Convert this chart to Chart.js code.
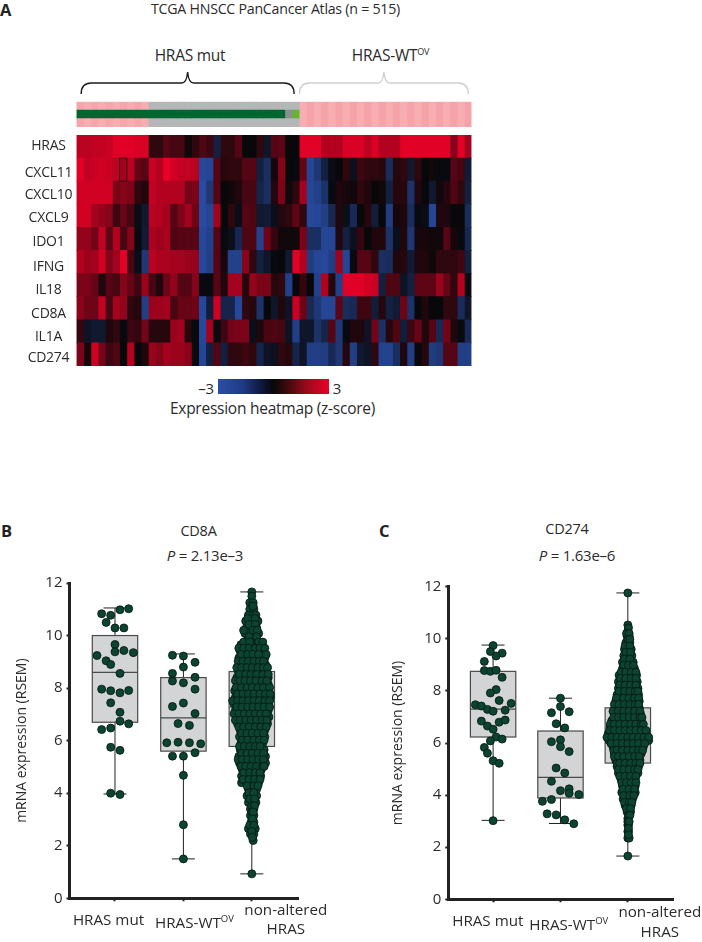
<!DOCTYPE html>
<html><head><meta charset="utf-8">
<script src="https://cdn.jsdelivr.net/npm/chart.js@4/dist/chart.umd.min.js"></script>
<style>
html,body{margin:0;padding:0;background:#fff;width:702px;height:942px;overflow:hidden}
body{position:relative;font-family:"Open Sans",sans-serif;color:#2b2b2b}
canvas{position:absolute}
.t{position:absolute;transform:translate(-50%,-50%);white-space:nowrap;font-size:14.2px;letter-spacing:-.25px}
.t sup{font-size:9px;line-height:0;vertical-align:baseline;position:relative;top:-6px}
.p{position:absolute;font-weight:700;font-size:16.5px;line-height:16px;color:#222}
#bar{position:absolute;left:218px;top:379px;width:111px;height:15px;filter:blur(.4px);background:linear-gradient(90deg,#2a4fa8 0%,#1f3a86 22%,#0c1230 42%,#080808 50%,#3c0a0c 62%,#990a1c 80%,#ee0028 100%)}
#heat{filter:blur(.55px)}
</style></head><body>
<div class="p" style="left:0;top:2px">A</div>
<div class="p" style="left:1px;top:523px">B</div>
<div class="p" style="left:379px;top:523px">C</div>
<div class="t" style="left:275.5px;top:8px">TCGA HNSCC PanCancer Atlas (n = 515)</div>
<div class="t" style="left:190px;top:55px;font-size:15.5px">HRAS mut</div>
<div class="t" style="left:390.5px;top:55px;font-size:15.5px">HRAS-WT<sup>OV</sup></div>
<div class="t" style="left:206px;top:388px;font-size:15px">–3</div>
<div class="t" style="left:337px;top:388px;font-size:15px">3</div>
<div id="bar"></div>
<div class="t" style="left:272.5px;top:408px;font-size:15.5px">Expression heatmap (z-score)</div>
<div class="t" style="left:198.5px;top:530px;font-size:14.5px">CD8A</div>
<div class="t" style="left:205px;top:555px;font-size:15px"><i>P</i> = 2.13e–3</div>
<div class="t" style="left:567px;top:528px;font-size:14.5px">CD274</div>
<div class="t" style="left:577px;top:555px;font-size:15px"><i>P</i> = 1.63e–6</div>
<canvas id="anno" width="480" height="70" style="left:0;top:60px"></canvas>
<canvas id="heat" width="480" height="245" style="left:0;top:130px"></canvas>
<canvas id="chartB" width="351" height="372" style="left:0;top:570px"></canvas>
<canvas id="chartC" width="351" height="372" style="left:351px;top:570px"></canvas>
<script>
const FONT='"Open Sans",sans-serif', INK='#2b2b2b';

// ---------- heatmap data (z-scores, 55 samples) ----------
const genes=['HRAS','CXCL11','CXCL10','CXCL9','IDO1','IFNG','IL18','CD8A','IL1A','CD274'];
const geneLabelShift=[-2.5,1.3,.2,.1,1,3,2.9,3.8,3.7,1.6];
const zHRAS  =[2.3,2.3,2.4,2.4,2.5,2.8,2.8,2.8,2.7,2.7,.5,.5,1,.8,.8,.1,.5,.9,.7,-1,.5,.5,1,0,0,.5,-.6,1,1.1,0,0,2.8,2.8,2.8,2.2,2.2,2.2,2.7,2.7,2.7,2.3,2.7,2.2,2.2,2.2,2.8,2.8,2.8,2.8,2.8,2.8,2.8,1.6,2.8,2];
const zCXCL11=[2.8,2.4,2.5,2.6,2.5,2.3,2,2.3,1.2,1,2.5,2.2,2.9,2.6,2.4,2.4,2.3,-2.7,-2.6,1,.4,.5,.5,1,1,-1,-1.6,.2,1.6,0,-.1,1.2,-2.6,-2,-1,-.2,0,.5,-.4,.7,.5,.5,.4,-1.5,.4,.5,-.7,.5,0,.1,-.1,-.1,1,.8,-.8];
const zCXCL10=[2.6,2.6,2.6,2.6,2.6,1.5,1.6,1.5,.5,.3,2.4,2.2,2.2,2.2,2.2,1.4,1.5,-2.8,-2,1,0,.1,.3,.8,.8,-1.2,-1.6,.4,1.5,.1,.5,2,-2.6,-2.4,-1.8,-.1,.3,.2,.1,.5,.3,0,.1,-1,.4,.4,-1.8,.3,0,-.7,.1,.4,.9,.5,-1];
const zCXCL9 =[2.6,2.6,2,1.8,1.6,.7,1.2,.8,-.2,-.7,2.3,2.2,2,1,1.5,2,1.3,-2.8,-2.6,2,0,.5,-.2,1,.9,-.7,-.8,-.3,.4,.5,1.1,.5,-2.7,-2.6,-2.3,-1.3,.3,-.3,-1.4,0,.4,-.9,0,-2.2,.2,.3,-1.5,-.1,-.2,-2.6,.3,.3,0,0,-1.5];
const zIDO1  =[1.8,1.8,1.4,2.4,1.1,2.2,.8,1.6,-.1,-.8,2.1,1.9,2.1,.9,1,1,1,-2.7,-2.4,1,-.1,-.3,-1.3,.9,.9,-2.5,1.3,.6,.1,.1,.1,1.5,-1.6,-1.6,-2.6,-2.6,.3,-1,-.4,.6,0,.3,.3,-1.8,-.3,.3,-2,.2,.2,.1,.1,1,.2,-.1,-1.3];
const zIFNG  =[2.2,1.9,2,2.6,1.6,2,2.8,.8,-.2,-2,2.3,2.1,2.1,2,2,1.9,1.8,-2.7,-2.3,1,.2,-2.4,-2.4,1.7,.5,-1,-.6,-.1,0,-.7,2.8,2.2,-2.2,-2.6,-2.7,-2.3,1.9,-2.6,-.1,1,1,.5,-1.6,-1.5,.3,.4,-.8,.3,.3,.1,.5,.5,.5,.7,-1];
const zIL18  =[1.5,1.5,1.2,.3,1,.8,1.6,1.2,.7,1.9,.8,.3,1.3,1.8,1,1,1.6,-.1,-.1,1,.3,2,2,.4,1.8,1.5,1.5,.4,.5,-2.4,0,.6,0,-2.4,2.2,.4,-2.4,2.8,2.8,2.8,2.6,2.5,-1,.9,.9,-.5,-1,1.1,1.1,1.1,1.9,1.2,.5,2.2,-.1];
const zCD8A  =[1.7,1.3,1.3,2.4,.8,2,1.8,.5,.4,-2.3,1.9,1.9,2,.8,1.2,1.2,1.3,-2.7,-.9,2.6,-1.2,-1.2,-2.7,.5,.4,-1.8,0,-.6,.3,-.5,2.5,1.3,-1.4,-2,-2.6,-2.6,1.1,-1.5,-1.4,.7,.7,-.9,.4,-1,-.8,1.3,-1.8,0,.3,0,0,.5,.5,-1.5,-.6];
const zIL1A  =[.6,-.5,-.7,-.7,.3,.5,-.1,.7,.6,1.4,.4,.4,.4,1.9,2,.4,-.1,-2.7,2,-.1,.7,1.4,1.5,1.5,-.3,.3,.8,.9,.8,-.5,-2.3,-.6,-.6,-1.8,-1.2,1,-2,-.1,.3,.3,-.5,1.4,-1.7,.4,.9,-.9,.7,1.2,.3,1,-1.4,1.4,.3,-.1,-1.4];
const zCD274 =[1.5,.2,2.6,1.4,.7,.9,0,2.2,0,.3,1.9,1.6,2,1.9,1.9,1.7,-.1,-2.6,-1,1,-1,.5,.5,.7,.5,-1.2,-.5,-.4,.5,.4,-1.2,-.5,-2.3,-2.3,-2.2,-1.4,-2,.4,-2.3,-.7,-.5,.5,-2.5,-2.5,-1.6,.3,-2.3,0,.4,-2.2,-2,1,1,-2.3,-2.3];
const zRows=[zHRAS,zCXCL11,zCXCL10,zCXCL9,zIDO1,zIFNG,zIL18,zCD8A,zIL1A,zCD274];

// annotation tracks: P/W amplified, G none, D truncating, S/L other
const annoOuter='PPPPPPPPPPGGGGGGGGGGGGGGGGGGGGGWWWWWWWWWWWWWWWWWWWWWWWW';
const annoMiddle='DDDDDDDDDDDDDDDDDDDDDDDDDDDDDSLWWWWWWWWWWWWWWWWWWWWWWWW';
const annoTracks=[annoOuter,annoMiddle,annoOuter];
const annoRowNames=['a','b','c'];
const annoColours={P:'#f5a6ab',W:'#f5a3a9',G:'#b4b6b8',D:'#00662f',S:'#86918f',L:'#66b52f'};

// ---------- box plots ----------
const groupTicks=[1,2,3];
const yTicks=[0,2,4,6,8,10,12];
// [whiskerLow,q1,median,q3,whiskerHigh]
const cd8aMutBox=[3.97,6.7,8.6,10,11.05], cd8aWtBox=[1.5,5.6,6.87,8.4,9.3], cd8aNonBox=[.93,5.78,7.28,8.63,11.66];
const cd274MutBox=[3.03,6.23,7.3,8.75,9.76], cd274WtBox=[2.91,3.89,4.68,6.46,7.72], cd274NonBox=[1.66,5.23,6.26,7.35,11.76];

// points: [offset within group, value]
const cd8aMut=[[-.195,10.83],[-.063,10.77],[.073,10.98],[.2,11.02],[-.13,10.5],[0,10.29],[.13,10.29],[0,9.66],[0,9.38],[.13,9.43],[.268,9.35],[-.263,9.24],[-.13,9.04],[-.063,8.9],[.073,8.56],[-.195,7.96],[-.063,7.9],[.073,7.82],[.2,7.91],[-.063,7.44],[.073,7.08],[.073,6.74],[.2,6.64],[-.195,6.42],[-.063,6.48],[-.063,5.75],[.073,5.63],[-.063,4],[.073,3.95]];
const cd8aWt=[[-.16,9.25],[0,9.22],[.17,8.98],[0,8.8],[-.16,8.56],[-.16,8.27],[0,8.2],[.17,8.41],[.17,7.96],[-.16,7.3],[0,7.43],[.17,7.03],[-.078,6.65],[.088,6.58],[-.078,5.94],[.088,5.92],[.253,5.88],[-.243,5.92],[-.16,5.41],[0,5.41],[.17,5.54],[0,4.68],[0,2.8],[0,1.5]];
const cd274Mut=[[0,9.74],[-.04,9.51],[.134,9.45],[.045,9.34],[-.13,9.13],[-.13,8.78],[-.04,8.75],[.045,8.79],[.134,8.52],[.045,8.05],[-.04,7.92],[.09,7.63],[.268,7.52],[-.263,7.47],[-.174,7.42],[-.084,7.29],[0,7.22],[.179,7.26],[-.174,6.84],[-.084,6.65],[0,6.53],[.09,6.8],[.179,6.88],[.045,6.23],[-.04,6.08],[.134,6.15],[-.13,5.83],[-.084,5.61],[0,5.32],[.09,5.22],[0,3.02]];
const cd274Wt=[[0,7.72],[0,7.4],[-.134,7.16],[.129,7.2],[-.064,6.74],[.064,6.58],[-.134,6.05],[0,6.12],[0,5.86],[.129,5.67],[-.064,5.04],[.064,4.85],[-.134,4.53],[0,4.17],[.129,4.24],[.129,4.07],[.273,4.02],[-.268,3.76],[-.134,3.83],[-.198,3.28],[-.064,3.24],[.064,3.05],[.198,2.9]];
// large groups, read row by row: [value,[offsets]]
const cd8aNon=[[11.66,[0]],[11.5,[0]],[11.25,[-.03,.02]],[11,[-.03,.03]],[10.78,[-.05,.02,.06]],[10.55,[-.09,-.03,.03,.09]],[10.3,[-.08,0,.07]],[10.08,[-.1,-.03,.04,.1]],[9.85,[-.06,0,.06]],[9.65,[-.16,-.08,0,.08,.15]],[9.4,[-.17,-.09,-.01,.07,.15]],[9.15,[-.19,-.11,-.03,.05,.13,.19]],[8.9,[-.17,-.09,-.01,.07,.15,.2]],[8.65,[-.2,-.12,-.04,.04,.12,.2]],[8.4,[-.22,-.14,-.06,.02,.1,.18,.24]],[8.15,[-.21,-.13,-.05,.03,.11,.19,.24]],[7.9,[-.25,-.17,-.09,-.01,.07,.15,.23]],[7.65,[-.24,-.16,-.08,0,.08,.16,.24,.27]],[7.4,[-.26,-.18,-.1,-.02,.06,.14,.22]],[7.15,[-.24,-.16,-.08,0,.08,.16,.24]],[6.9,[-.22,-.14,-.06,.02,.1,.18,.25]],[6.65,[-.21,-.13,-.05,.03,.11,.19,.23]],[6.4,[-.17,-.09,-.01,.07,.15,.19]],[6.15,[-.18,-.1,-.02,.06,.14,.19]],[5.9,[-.16,-.08,0,.08,.16]],[5.65,[-.17,-.09,-.01,.07,.15,.18]],[5.4,[-.19,-.11,-.03,.05,.13,.2]],[5.15,[-.18,-.1,-.02,.06,.14,.2]],[4.9,[-.14,-.06,.02,.1,.14]],[4.65,[-.15,-.07,.01,.09,.13]],[4.4,[-.15,-.06,.02,.1]],[4.15,[-.05,.01,.07]],[3.9,[-.07,-.01,.05,.07]],[3.65,[-.05,.01,.06]],[3.4,[-.02,.03]],[3.15,[-.02,.03]],[2.9,[-.01,.03]],[2.65,[-.05,0,.05]],[2.45,[-.02,.03]],[2.2,[.02]],[.93,[0]]];
const cd8aNonMore=[[11.12,[.02]],[10.65,[-.06,.05]],[10.42,[-.04,.05]],[10.2,[-.12,.02,.08]],[9.95,[-.04,.07]],[9.75,[-.12,-.03,.1,.16]],[9.52,[-.19,-.12,-.04,.05,.12,.19]],[9.28,[-.15,-.06,.02,.1,.21]],[9.02,[-.2,-.13,-.05,.03,.11,.17]],[8.78,[-.22,-.15,-.07,.01,.09,.17,.23]],[8.52,[-.18,-.09,-.01,.07,.16,.24]],[8.28,[-.24,-.17,-.1,-.02,.06,.15,.22]],[8.02,[-.23,-.15,-.07,.01,.09,.17,.26]],[7.78,[-.21,-.13,-.05,.03,.12,.2,.27]],[7.52,[-.28,-.21,-.13,-.05,.03,.11,.19,.26]],[7.28,[-.22,-.14,-.06,.02,.1,.18,.26]],[7.02,[-.26,-.19,-.11,-.03,.05,.13,.21]],[6.78,[-.24,-.17,-.09,-.01,.07,.15,.22]],[6.52,[-.19,-.12,-.04,.05,.13,.21]],[6.28,[-.15,-.07,.01,.09,.17]],[6.02,[-.14,-.06,.03,.11,.18]],[5.78,[-.18,-.11,-.03,.05,.12]],[5.52,[-.15,-.07,.01,.09,.17]],[5.28,[-.2,-.14,-.06,.02,.1,.17]],[5.02,[-.16,-.09,-.01,.07,.16,.18]],[4.78,[-.12,-.03,.05,.12]],[4.52,[-.13,-.04,.04,.12]],[4.28,[-.07,.03,.09]],[4.02,[-.04,.03]],[3.78,[-.03,.04]],[3.52,[0,.04]],[3.28,[0,.02]],[3.02,[.01]],[2.78,[-.03,.03]],[2.55,[0]],[2.32,[.01]]];
const cd274Non=[[11.76,[0]],[10.53,[0]],[10.3,[0]],[10.1,[-.01,.02]],[9.85,[-.03,.03]],[9.6,[-.05,.01,.05]],[9.35,[-.06,0,.06]],[9.1,[-.08,-.01,.06,.08]],[8.85,[-.08,-.02,.05,.1]],[8.6,[-.13,-.05,.03,.1,.13]],[8.35,[-.14,-.07,0,.07,.14]],[8.1,[-.14,-.06,.02,.1,.15]],[7.85,[-.16,-.08,0,.08,.16]],[7.6,[-.18,-.1,-.02,.06,.14,.17]],[7.35,[-.19,-.11,-.03,.05,.13,.17]],[7.1,[-.2,-.12,-.04,.04,.12,.19]],[6.85,[-.24,-.16,-.08,0,.08,.16,.2]],[6.6,[-.26,-.18,-.1,-.02,.06,.14,.22]],[6.35,[-.29,-.21,-.13,-.05,.03,.11,.19,.27]],[6.1,[-.28,-.2,-.12,-.04,.04,.12,.2,.28,.31]],[5.85,[-.22,-.14,-.06,.02,.1,.18,.23]],[5.6,[-.2,-.12,-.04,.04,.12,.2]],[5.35,[-.18,-.1,-.02,.06,.14,.18]],[5.1,[-.16,-.08,0,.08,.16]],[4.85,[-.14,-.06,.02,.1,.15]],[4.6,[-.1,-.03,.04,.11]],[4.35,[-.08,-.01,.06,.11]],[4.1,[-.09,-.02,.05,.11]],[3.85,[-.07,0,.07]],[3.6,[-.04,.03,.05]],[3.35,[-.01,.04]],[3.1,[0]],[2.85,[0,.01]],[2.6,[0,.01]],[2.35,[0,.02]],[1.66,[0]]];
const cd274NonMore=[[10.42,[.01]],[10.2,[-.02,.02]],[9.98,[0,.03]],[9.72,[-.04,.03]],[9.48,[-.03,.04]],[9.22,[-.05,.03]],[8.98,[-.06,.01,.08]],[8.72,[-.1,-.03,.05,.12]],[8.48,[-.11,-.03,.05,.12]],[8.22,[-.12,-.04,.04,.12]],[7.98,[-.13,-.05,.03,.11,.15]],[7.72,[-.17,-.06,.02,.1,.16]],[7.48,[-.2,-.13,-.05,.03,.11,.16]],[7.22,[-.22,-.14,-.06,.02,.1,.18]],[6.98,[-.21,-.14,-.06,.02,.1,.18,.21]],[6.72,[-.26,-.2,-.12,-.04,.04,.12,.2,.23]],[6.48,[-.27,-.2,-.12,-.04,.04,.12,.2,.27]],[6.22,[-.31,-.24,-.16,-.08,0,.08,.16,.24,.31]],[5.98,[-.25,-.16,-.08,0,.08,.16,.25]],[5.72,[-.21,-.16,-.08,0,.08,.16,.22]],[5.48,[-.2,-.14,-.06,.02,.1,.17]],[5.22,[-.16,-.12,-.04,.04,.12,.18]],[4.98,[-.14,-.06,.02,.1,.15]],[4.72,[-.12,-.04,.04,.12]],[4.48,[-.09,-.02,.05,.12]],[4.22,[-.07,.02,.1]],[3.98,[-.06,.03,.09]],[3.72,[-.05,.02,.06]],[3.48,[-.02,.04]],[3.22,[.01,.03]],[2.98,[0,.02]],[2.72,[.01]],[2.48,[.01]]];

// ---------- helpers ----------
function ramp(z){
  const neg=[42,79,170],mid=[8,8,10],pos=[240,0,40];
  const t=Math.min(1,Math.abs(z)/3),e=z<0?neg:pos;
  return 'rgb('+mid.map((m,i)=>Math.round(m+(e[i]-m)*t)).join(',')+')';
}
const baseOpts={responsive:false,animation:false,events:[],plugins:{legend:{display:false},tooltip:{enabled:false}}};

// annotation tracks + braces
const bracePlugin={id:'braces',afterDraw(c){
  const x=c.scales.x,ctx=c.ctx;
  const brace=(a,b,col,lw)=>{
    const l=x.getPixelForValue(a),r=x.getPixelForValue(b),m=(l+r)/2,top=12,mid=23,end=34;
    ctx.save();ctx.strokeStyle=col;ctx.lineWidth=lw;ctx.beginPath();
    ctx.moveTo(l,end);ctx.quadraticCurveTo(l,mid,l+10,mid);ctx.lineTo(m-6,mid);
    ctx.quadraticCurveTo(m-1,mid,m,top);ctx.quadraticCurveTo(m+1,mid,m+6,mid);
    ctx.lineTo(r-10,mid);ctx.quadraticCurveTo(r,mid,r,end);ctx.stroke();ctx.restore();
  };
  brace(.65,30.3,'#1c1c1c',1.4);
  brace(31.05,54.55,'#cfcfcf',1.4);
}};
const annoShade=(ch,j)=>(ch==='W'||ch==='P')&&j%2?'#f7aeb3':annoColours[ch];
new Chart(document.getElementById('anno'),{type:'bar',plugins:[bracePlugin],
 data:{labels:annoRowNames,datasets:zHRAS.map((_,j)=>({data:annoTracks.map(()=>1),backgroundColor:annoTracks.map(t=>annoShade(t[j],j)),borderWidth:0,inflateAmount:.4,barPercentage:1,categoryPercentage:1}))},
 options:{...baseOpts,indexAxis:'y',layout:{padding:{top:41.7,right:8.5,bottom:3,left:0}},
  scales:{x:{type:'linear',stacked:true,min:0,max:55,display:false},
          y:{stacked:true,grid:{display:false},border:{display:false},ticks:{display:false},afterFit:s=>{s.width=76.5}}}}});

// heatmap
const heatPlugin={id:'cell',afterDatasetsDraw(c){
  const x=c.scales.x,y=c.scales.y,ctx=c.ctx;
  const h=(y.getPixelForValue(1)-y.getPixelForValue(0));
  ctx.save();ctx.strokeStyle='#3a0c10';ctx.lineWidth=1;
  ctx.strokeRect(x.getPixelForValue(6),y.getPixelForValue(1)-h/2,x.getPixelForValue(7)-x.getPixelForValue(6),h);
  ctx.restore();
}};
new Chart(document.getElementById('heat'),{type:'bar',plugins:[heatPlugin],
 data:{labels:genes,datasets:zHRAS.map((_,j)=>({data:genes.map(()=>1),backgroundColor:zRows.map(r=>ramp(r[j])),borderWidth:0,inflateAmount:.4,barPercentage:1,categoryPercentage:1}))},
 options:{...baseOpts,indexAxis:'y',layout:{padding:{top:5,right:8.5,bottom:9,left:0}},
  scales:{x:{type:'linear',stacked:true,min:0,max:55,display:false},
          y:{stacked:true,grid:{display:false,drawTicks:false},border:{display:false},ticks:{display:false},afterFit:s=>{s.width=76.5}}}}});
// gene labels sit outside the blurred heat canvas, positioned from its y scale
(function(){
  const hc=Chart.getChart('heat'),Y=hc.scales.y;
  genes.forEach((g,i)=>{
    const d=document.createElement('div');d.className='t';d.textContent=g;
    d.style.cssText='left:48.5px;top:'+(130+Y.getPixelForValue(i)+geneLabelShift[i])+'px;font-size:14px';
    document.body.appendChild(d);
  });
})();

// box plot charts
function flatten(group,idx){return group.map(p=>({x:idx+p[0],y:p[1]}));}
function flattenRows(rows,idx){const o=[];rows.forEach(r=>r[1].forEach(d=>o.push({x:idx+d,y:r[0]})));return o;}
function boxChart(id,boxes,points,labelSpec,area){
  const LF='15.2px '+FONT,SF='9.5px '+FONT;
  const boxPlugin={id:'boxes',beforeDatasetsDraw(c){
    const X=c.scales.x,Y=c.scales.y,ctx=c.ctx;
    boxes.forEach((b,i)=>{
      const cx=X.getPixelForValue(groupTicks[i]),hw=22.7,cap=11.5;
      const [lo,q1,med,q3,hi]=b.map(v=>Y.getPixelForValue(v));
      ctx.save();ctx.strokeStyle='#222';ctx.lineWidth=1;
      ctx.beginPath();ctx.moveTo(cx,lo);ctx.lineTo(cx,hi);
      ctx.moveTo(cx-cap,lo);ctx.lineTo(cx+cap,lo);ctx.moveTo(cx-cap,hi);ctx.lineTo(cx+cap,hi);ctx.stroke();
      ctx.fillStyle='#d3d4d5';ctx.strokeStyle='#4a4a4a';ctx.lineWidth=1.2;
      ctx.fillRect(cx-hw,q3,2*hw,q1-q3);ctx.strokeRect(cx-hw,q3,2*hw,q1-q3);
      ctx.beginPath();ctx.moveTo(cx-hw,med);ctx.lineTo(cx+hw,med);ctx.stroke();
      ctx.restore();
    });
  },afterDraw(c){
    const ctx=c.ctx,X=c.scales.x,top=c.canvas.getBoundingClientRect().top;
    ctx.save();ctx.fillStyle=INK;ctx.textBaseline='middle';
    labelSpec.forEach((s,i)=>{
      const cx=X.getPixelForValue(groupTicks[i])+s.dx;
      ctx.font=LF;
      s.lines.forEach(l=>{
        const w=ctx.measureText(l.text).width;
        if(l.sup){
          ctx.font=SF;const sw=ctx.measureText(l.sup).width;
          ctx.font=LF;
          const x0=cx-(w+sw)/2;ctx.textAlign='left';
          ctx.fillText(l.text,x0,l.y-top);
          ctx.font=SF;ctx.fillText(l.sup,x0+w,l.y-top-5);ctx.font=LF;
        }else{ctx.textAlign='center';ctx.fillText(l.text,cx,l.y-top);}
      });
    });
    ctx.restore();
  }};
  new Chart(document.getElementById(id),{type:'scatter',plugins:[boxPlugin],
   data:{datasets:[{data:points,backgroundColor:'#0b4430',borderColor:'#06150f',borderWidth:.8,pointRadius:4}]},
   options:{...baseOpts,layout:{padding:{top:area.top,right:area.right,bottom:0,left:0}},
    scales:{
     x:{type:'linear',min:.335,max:3.675,afterFit:s=>{s.height=area.bottom},
        afterBuildTicks:s=>{s.ticks=groupTicks.map(v=>({value:v}))},
        grid:{drawOnChartArea:false,drawTicks:true,tickLength:3,tickWidth:2,tickColor:'#222'},
        border:{color:'#222',width:3},ticks:{display:false}},
     y:{type:'linear',min:0,max:12,afterFit:s=>{s.width=area.left},
        afterBuildTicks:s=>{s.ticks=yTicks.map(v=>({value:v}))},
        grid:{drawOnChartArea:false,drawTicks:true,tickLength:3,tickWidth:2,tickColor:'#222'},
        border:{color:'#222',width:3},
        ticks:{color:INK,padding:4,font:{family:FONT,size:15}},
        title:{display:true,text:'mRNA expression (RSEM)',color:INK,font:{family:FONT,size:14},padding:{top:area.titlePad,bottom:0}}}
    }}});
}
boxChart('chartB',[cd8aMutBox,cd8aWtBox,cd8aNonBox],
 [...flatten(cd8aMut,1),...flatten(cd8aWt,2),...flattenRows(cd8aNon,3),...flattenRows(cd8aNonMore,3)],
 [{dx:-6.5,lines:[{text:'HRAS mut',y:920.7}]},{dx:11,lines:[{text:'HRAS-WT',sup:'OV',y:924}]},{dx:34,lines:[{text:'non-altered',y:910.7},{text:'HRAS',y:930}]}],
 {left:69.5,right:53,top:11,bottom:43.7,titlePad:14});
boxChart('chartC',[cd274MutBox,cd274WtBox,cd274NonBox],
 [...flatten(cd274Mut,1),...flatten(cd274Wt,2),...flattenRows(cd274Non,3),...flattenRows(cd274NonMore,3)],
 [{dx:-5.3,lines:[{text:'HRAS mut',y:922}]},{dx:8.3,lines:[{text:'HRAS-WT',sup:'OV',y:926}]},{dx:32,lines:[{text:'non-altered',y:913},{text:'HRAS',y:932.7}]}],
 {left:97.3,right:28.7,top:16.7,bottom:42.7,titlePad:39});
</script>
</body></html>
